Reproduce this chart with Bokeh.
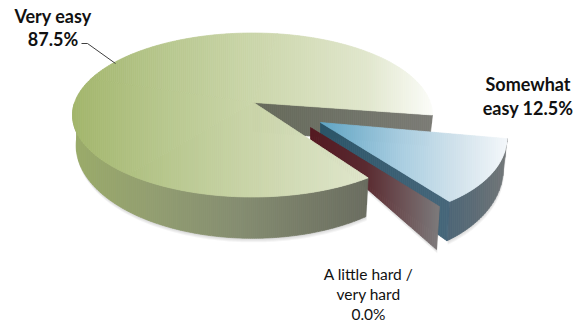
import math
from bokeh.plotting import figure
from bokeh.models import Range1d, ColumnDataSource
from bokeh.core.properties import value
from bokeh.embed import file_html
from bokeh.resources import INLINE

# Survey answers, in percent, clockwise from the detached slice
categories = ["Somewhat easy", "A little hard / very hard", "Very easy"]
shares = [12.5, 0.0, 87.5]
label_lines = [["Very easy", "87.5%"], ["Somewhat", "easy 12.5%"], ["A little hard /", "very hard", "0.0%"]]

W, H = 583, 322
START = 3.0       # screen angle where the first slice begins
WALL_BASE = 29.0  # wall height at the apex of a slice
WALL_GROW = 1.13  # vertical stretch of the wall's lower edge
WALL_NARROW = 0.98


def cumulative_angles():
    out, a = {}, START
    for name, s in zip(categories, shares):
        out[name] = (a, a + 360.0 * s / 100.0)
        a += 360.0 * s / 100.0
    return out


ANG = cumulative_angles()

# Projection of each slice: apex, rim centre, affine tilt of its disc, angular correction
PROJ = {
    "Very easy": dict(apex=(253.0, 102.0), c=(252.0, 114.5), m=(180.0, 0.0, 0.0, 82.0),
                      warp=lambda d: 6.6 * math.sin(math.radians(d - 30.0))),
    "Somewhat easy": dict(apex=(320.0, 122.0), c=(320.0, 122.0), m=(185.0, 25.0, 1.0, 97.0),
                          warp=lambda d: 6.0),
    "A little hard / very hard": dict(apex=(310.0, 127.0), c=(310.0, 127.0), m=(185.0, 25.0, 1.0, 97.0),
                                      warp=lambda d: 6.0),
}


def rim(name, deg):
    pr = PROJ[name]
    t = math.radians(deg + pr["warp"](deg))
    u, v = math.cos(t), math.sin(t)
    a, b, c, d = pr["m"]
    return (pr["c"][0] + a * u + b * v, pr["c"][1] + c * u + d * v)


def rim_points(name, a0, a1, n=90):
    return [rim(name, a0 + (a1 - a0) * i / n) for i in range(n + 1)]


def drop(name, pt):
    # Point on the lower edge of the wall under a rim point
    ax, ay = PROJ[name]["apex"]
    return (ax + (pt[0] - ax) * WALL_NARROW, ay + (pt[1] - ay) * WALL_GROW + WALL_BASE)


def clip_slab(poly, x0, x1):
    def clip(pts, inside, cross):
        res = []
        for i, q0 in enumerate(pts):
            q1 = pts[(i + 1) % len(pts)]
            if inside(q0):
                res.append(q0)
                if not inside(q1):
                    res.append(cross(q0, q1))
            elif inside(q1):
                res.append(cross(q0, q1))
        return res

    def at(x):
        return lambda a, b: (x, a[1] + (b[1] - a[1]) * (x - a[0]) / (b[0] - a[0]))

    out = clip(poly, lambda q: q[0] >= x0, at(x0))
    if out:
        out = clip(out, lambda q: q[0] <= x1, at(x1))
    return out


def ramp(stops, x):
    if x <= stops[0][0]:
        return stops[0][1]
    for (x0, c0), (x1, c1) in zip(stops, stops[1:]):
        if x <= x1:
            t = (x - x0) / (x1 - x0)
            a = [int(c0[i:i + 2], 16) for i in (1, 3, 5)]
            b = [int(c1[i:i + 2], 16) for i in (1, 3, 5)]
            return "#%02x%02x%02x" % tuple(round(m + (n - m) * t) for m, n in zip(a, b))
    return stops[-1][1]


p = figure(width=W, height=H, output_backend="svg", toolbar_location=None,
           x_range=Range1d(0, W), y_range=Range1d(H, 0), min_border=0)
p.axis.visible = False
p.grid.visible = False
p.outline_line_color = None
p.background_fill_color = "#ffffff"
p.border_fill_color = "#ffffff"


def shaded(poly, stops, step=2.0):
    # Horizontal gradient, built from thin vertical bands of the polygon
    xmin = min(q[0] for q in poly)
    xmax = max(q[0] for q in poly)
    xs, ys, cols = [], [], []
    x = xmin
    while x < xmax:
        piece = clip_slab(poly, x, min(x + step, xmax))
        if len(piece) >= 3:
            xs.append([q[0] for q in piece])
            ys.append([q[1] for q in piece])
            cols.append(ramp(stops, x + step / 2))
        x += step
    p.patches("xs", "ys", source=ColumnDataSource(dict(xs=xs, ys=ys, c=cols)),
              fill_color="c", line_color="c", line_width=0.7)


def soft_shadow(poly):
    for off in (1.0, 2.0, 3.0, 4.0):
        p.patch([q[0] + off * 0.2 for q in poly], [q[1] + off for q in poly],
                fill_color="#555555", fill_alpha=0.06, line_color=None)


GREEN, BLUE, MAROON = "Very easy", "Somewhat easy", "A little hard / very hard"
g0, g1 = ANG[GREEN]
b0, b1 = ANG[BLUE]
m0 = ANG[MAROON][0]

green_apex = PROJ[GREEN]["apex"]
blue_apex = PROJ[BLUE]["apex"]
maroon_apex = PROJ[MAROON]["apex"]

# Wall of the large slice: the front arc and its lower edge
front = rim_points(GREEN, g0, 185)
green_wall = front + [drop(GREEN, q) for q in reversed(front)]
soft_shadow(green_wall)

# Inner face seen through the notch of the large slice
back = rim(GREEN, g1)
shaded([green_apex, back, drop(GREEN, back), (green_apex[0], green_apex[1] + WALL_BASE)],
       [(253, "#656959"), (350, "#6f7267"), (432, "#7b7b75")])

# Detached slice: outer wall, inner wall, top
arc = rim_points(BLUE, b0, b1)
blue_wall = arc + [drop(BLUE, q) for q in reversed(arc)]
soft_shadow(blue_wall)
shaded(blue_wall, [(445, "#4b6577"), (480, "#5f6d75"), (510, "#767879")])
blue_end = rim(BLUE, b1)
shaded([blue_apex, blue_end, drop(BLUE, blue_end), (blue_apex[0], blue_apex[1] + WALL_BASE)],
       [(320, "#2a5468"), (449, "#46667a")])
shaded([blue_apex] + arc, [(320, "#5fa4c4"), (400, "#a8cde0"), (460, "#d3e3ec"), (507, "#f3f7fa")])

# The empty slice has no sweep, so only its flat face shows
m_end = rim(MAROON, m0)
m_face = [maroon_apex, m_end, (m_end[0] - 3, m_end[1] + 43), (maroon_apex[0], maroon_apex[1] + 12)]
soft_shadow(m_face)
shaded(m_face, [(310, "#541820"), (366, "#5a2a30"), (405, "#6e5558"), (438, "#7c797a")])

# Large slice on top of everything it overlaps
shaded(green_wall, [(72, "#9aab68"), (150, "#929e70"), (240, "#848c70"), (310, "#757a66"), (366, "#6a6d60")])
GREEN_TOP = [(72, "#a2b56b"), (160, "#b6c68c"), (250, "#cad5a9"), (366, "#e0e6cc"), (432, "#fbfcf8")]
# The top is concave at the apex, so its gradient goes on in convex wedges
wedges = 4
for i in range(wedges):
    a0 = g0 + (g1 - g0) * i / wedges
    a1 = g0 + (g1 - g0) * (i + 1) / wedges
    shaded([green_apex] + rim_points(GREEN, a0, a1, 60), GREEN_TOP)

# Leader line of the largest slice
p.line([81, 87, 115], [43, 43, 63], line_color="#404040", line_width=1)


def label(lines, x, ys, size, style):
    p.text([x] * len(lines), ys, text=lines, text_align="center", text_baseline="middle",
           text_font=value("Lato"), text_font_size=size, text_font_style=style, text_color="#111111")


label(label_lines[0], 52.5, [15, 38], "18px", "bold")
label(label_lines[1], 527.5, [83, 107], "18px", "bold")
label(label_lines[2], 368, [273, 293, 313], "15.5px", "normal")

open("out.html", "w").write(file_html(p, INLINE))
